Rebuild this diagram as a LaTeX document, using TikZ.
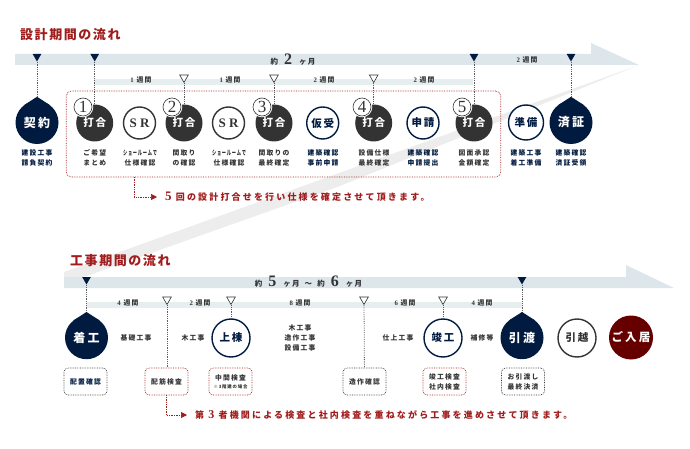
\documentclass[tikz,border=0pt]{standalone}
\usepackage{fontspec}
\setmainfont{Noto Sans CJK JP}
\newfontfamily\spaced[LetterSpace=18]{Noto Sans CJK JP}
\newfontfamily\titlefont[LetterSpace=12]{Noto Sans CJK JP}
\newfontfamily\notefont[LetterSpace=24]{Noto Sans CJK JP}
\newfontfamily\numfont{Liberation Serif}
\usetikzlibrary{shapes.geometric,arrows.meta,calc}
\definecolor{navy}{HTML}{001A40}
\definecolor{dark}{HTML}{333333}
\definecolor{wine}{HTML}{660000}
\definecolor{brick}{HTML}{A11C1C}
\definecolor{barblue}{HTML}{DCE6EB}
\definecolor{subbar}{HTML}{E6EEF0}
\newcommand{\fs}[1]{\fontsize{#1}{#1}\selectfont}
\newcommand{\droptop}[1]{\fill[navy] (#1.128) -- ($(#1.north)+(0,-4)$) -- (#1.52) -- cycle;}

\begin{document}
\begin{tikzpicture}[x=1pt,y=-1pt,
		sectitle/.style = {anchor=west,inner sep=0pt,text=brick,font=\titlefont\bfseries\fs{13}},
		notetext/.style = {anchor=west,inner sep=0pt,text=brick,font=\notefont\bfseries\fs{9}},
		span/.style = {inner sep=0pt,text=dark,font=\spaced\bfseries\fs{6.8}},
		caption/.style = {inner sep=0pt,align=center,text=dark,font=\spaced\bfseries\fontsize{6.8}{10}\selectfont},
		capblue/.style = {caption,text=navy},
		disc/.style = {circle,inner sep=0pt,fill=dark,text=white,minimum size=37pt,font=\spaced\bfseries\fs{10.5}},
		drop/.style = {disc,fill=navy,minimum size=43pt,font=\spaced\bfseries\fs{12}},
		ring/.style = {circle,inner sep=0pt,draw=navy,line width=1.4pt,fill=white,text=navy,minimum size=#1,font=\spaced\bfseries\fs{10.5}},
		num/.style = {circle,inner sep=0pt,draw=dark,line width=0.6pt,fill=white,text=dark,minimum size=18pt,font=\numfont\fs{17},preaction={draw=white,line width=2.5pt}},
		tick/.style = {regular polygon,regular polygon sides=3,shape border rotate=180,inner sep=0pt,minimum size=10pt},
		fulltick/.style = {tick,fill=navy},
		opentick/.style = {tick,draw=dark,line width=0.6pt,fill=white},
		dots/.style = {densely dotted,draw=dark!80,line width=0.8pt},
		checkbox/.style = {rectangle,rounded corners=4pt,densely dotted,line width=0.7pt,minimum width=43pt,minimum height=27pt,inner sep=0pt,align=center,font=\spaced\bfseries\fontsize{6.8}{10}\selectfont},
		greybox/.style = {checkbox,draw=dark,text=navy},
		redbox/.style = {checkbox,draw=brick,text=dark},
		notearrow/.style = {densely dotted,draw=brick,line width=0.7pt,-{Triangle[length=6pt,width=6pt,fill=brick,sep=0pt]}}]

	\useasboundingbox (0,0) rectangle (690,449);

	% band between the two periods
	\fill[black!7] (639,65) -- (64,272) -- (64,284) -- (340,186) -- cycle;

	% bars
	\fill[barblue] (15,54) -- (591,54) -- (591,43) -- (639,65) -- (15,65) -- cycle;
	\fill[subbar] (94,79) rectangle (473,85);
	\fill[barblue] (64,277) -- (626,277) -- (626,265) -- (674,288) -- (64,288) -- cycle;
	\fill[subbar] (87,302) rectangle (522,308);

	% titles
	\node[sectitle] (designtitle) at (20,35) {設計期間の流れ};
	\node[sectitle] (worktitle) at (70,261) {工事期間の流れ};

	% design period
	\node[span,font=\spaced\bfseries\fs{7.5}] (twomonths) at (293,60) {約\hspace{6pt}{\numfont\fs{16}2}\hspace{7pt}ヶ月};
	\node[span] (w1) at (141,80) {{\numfont 1} 週間};
	\node[span] (w2) at (230,80) {{\numfont 1} 週間};
	\node[span] (w3) at (324,80) {{\numfont 2} 週間};
	\node[span] (w4) at (424,80) {{\numfont 2} 週間};
	\node[span] (w5) at (527,60) {{\numfont 2} 週間};

	\node[rectangle,rounded corners=5pt,densely dotted,draw=brick,line width=0.7pt,minimum width=434.5pt,minimum height=86pt,inner sep=0pt] (designbox) at (283.5,134) {};

	\node[drop] (keiyaku) at (37,122.5) {契約};
	\node[disc] (mtg1) at (94.7,123) {打合};
	\node[ring=32pt,text=dark,draw=dark] (sr1) at (139.5,123) {\numfont\bfseries\fs{13}S R};
	\node[disc] (mtg2) at (184,123) {打合};
	\node[ring=32pt,text=dark,draw=dark] (sr2) at (228.5,123) {\numfont\bfseries\fs{13}S R};
	\node[disc] (mtg3) at (274,123) {打合};
	\node[ring=32pt] (kariuke) at (322.7,123) {仮受};
	\node[disc] (mtg4) at (373.7,123) {打合};
	\node[ring=32pt] (shinsei) at (423,123) {申請};
	\node[disc] (mtg5) at (474,123) {打合};
	\node[ring=35pt] (junbi) at (526,122.5) {準備};
	\node[drop] (sumi) at (571,122.5) {済証};

	\node[num] (n1) at (83,107) {1};
	\node[num] (n2) at (172,107) {2};
	\node[num] (n3) at (262,107) {3};
	\node[num] (n4) at (362,107) {4};
	\node[num] (n5) at (462,107) {5};

	\node[fulltick] (f1) at (37,56.5) {};
	\node[fulltick] (f2) at (94.7,56.5) {};
	\node[opentick] (o1) at (184,77.5) {};
	\node[opentick] (o2) at (274,77.5) {};
	\node[opentick] (o3) at (373.7,77.5) {};
	\node[fulltick] (f3) at (474,56.5) {};
	\node[fulltick] (f4) at (571,56.5) {};

	\node[capblue] (c1) at (37,158) {建設工事\\請負契約};
	\node[caption] (c2) at (94.7,158) {ご希望\\まとめ};
	\node[caption] (c3) at (140,158) {\scalebox{0.62}[1]{ショールームで}\\仕様確認};
	\node[caption] (c4) at (184,158) {間取り\\の確認};
	\node[caption] (c5) at (229,158) {\scalebox{0.62}[1]{ショールームで}\\仕様確認};
	\node[caption] (c6) at (274,158) {間取りの\\最終確定};
	\node[capblue] (c7) at (323,158) {建築確認\\事前申請};
	\node[caption] (c8) at (374,158) {設備仕様\\最終確定};
	\node[capblue] (c9) at (423,158) {建築確認\\申請提出};
	\node[caption] (c10) at (474,158) {図面承認\\金額確定};
	\node[capblue] (c11) at (526,158) {建築工事\\着工準備};
	\node[capblue] (c12) at (571,158) {建築確認\\済証受領};

	\coordinate (designdrop) at (134,177);
	\node[notetext] (designnote) at (165,197) {{\numfont\fs{13}5} 回の設計打合せを行い仕様を確定させて頂きます。};

	% work period
	\node[span,font=\spaced\bfseries\fs{7.5}] (months) at (308.5,282) {約\hspace{6pt}{\numfont\fs{16}5}\hspace{7pt}ヶ月\hspace{5pt}〜\hspace{5pt}約\hspace{6pt}{\numfont\fs{16}6}\hspace{7pt}ヶ月};
	\node[span] (x1) at (128,303) {{\numfont 4} 週間};
	\node[span] (x2) at (200,303) {{\numfont 2} 週間};
	\node[span] (x3) at (300,303) {{\numfont 8} 週間};
	\node[span] (x4) at (405,303) {{\numfont 6} 週間};
	\node[span] (x5) at (482,303) {{\numfont 4} 週間};

	\node[drop] (chakko) at (86.5,337.7) {着工};
	\node[ring=38pt] (jyoto) at (231,338) {上棟};
	\node[ring=38pt] (shunko) at (443,338) {竣工};
	\node[drop] (hikiwatashi) at (522,337.7) {引渡};
	\node[ring=38pt,text=dark,draw=dark] (hikkoshi) at (577,338) {引越};
	\node[disc,fill=wine,minimum size=44pt,font=\spaced\bfseries\fs{11.5}] (nyukyo) at (631,337.5) {ご入居};

	\node[caption] (t1) at (136,338) {基礎工事};
	\node[caption] (t2) at (193,338) {木工事};
	\node[caption] (t3) at (300,338) {木工事\\造作工事\\設備工事};
	\node[caption] (t4) at (398,338) {仕上工事};
	\node[caption] (t5) at (482,338) {補修等};

	\node[fulltick] (g1) at (86.5,279.5) {};
	\node[opentick] (p1) at (167,299.5) {};
	\node[opentick] (p2) at (231,299.5) {};
	\node[opentick] (p3) at (364,299.5) {};
	\node[opentick] (p4) at (443,299.5) {};
	\node[fulltick] (g2) at (522,279.5) {};

	\node[greybox] (haichi) at (85.5,381.5) {配置確認};
	\node[redbox] (haikin) at (166.5,381.5) {配筋検査};
	\node[redbox,align=center] (chukan) at (230.5,381.5) {中間検査\\[-2pt]{\fs{4.4}※3階建の場合}};
	\node[greybox,text=dark] (zosaku) at (364.5,381.5) {造作確認};
	\node[redbox] (kensa) at (444.5,381.5) {竣工検査\\社内検査};
	\node[greybox,text=dark] (saishu) at (523,381.5) {お引渡し\\最終決済};

	\node[notetext] (worknote) at (195,415) {第 {\numfont\fs{12}3} 者機関による検査と社内検査を重ねながら工事を進めさせて頂きます。};

	% connectors
	\draw[dots] (f1) -- (keiyaku);
	\draw[dots] (f2) -- (mtg1);
	\draw[dots] (o1) -- (mtg2);
	\draw[dots] (o2) -- (mtg3);
	\draw[dots] (o3) -- (mtg4);
	\draw[dots] (f3) -- (mtg5);
	\draw[dots] (f4) -- (sumi);
	\draw[dots] (g1) -- (chakko);
	\draw[dots] (p1) -- (p1 |- haikin.north);
	\draw[dots] (p2) -- (jyoto);
	\draw[dots] (p3) -- (zosaku);
	\draw[dots] (p4) -- (shunko);
	\draw[dots] (g2) -- (hikiwatashi);
	\draw[notearrow,shorten >=8pt] (designdrop) |- (designnote);
	\draw[notearrow,shorten >=8pt] (haikin) |- (worknote);

	% drop tips
	\droptop{keiyaku}
	\droptop{sumi}
	\droptop{chakko}
	\droptop{hikiwatashi}

\end{tikzpicture}
\end{document}
